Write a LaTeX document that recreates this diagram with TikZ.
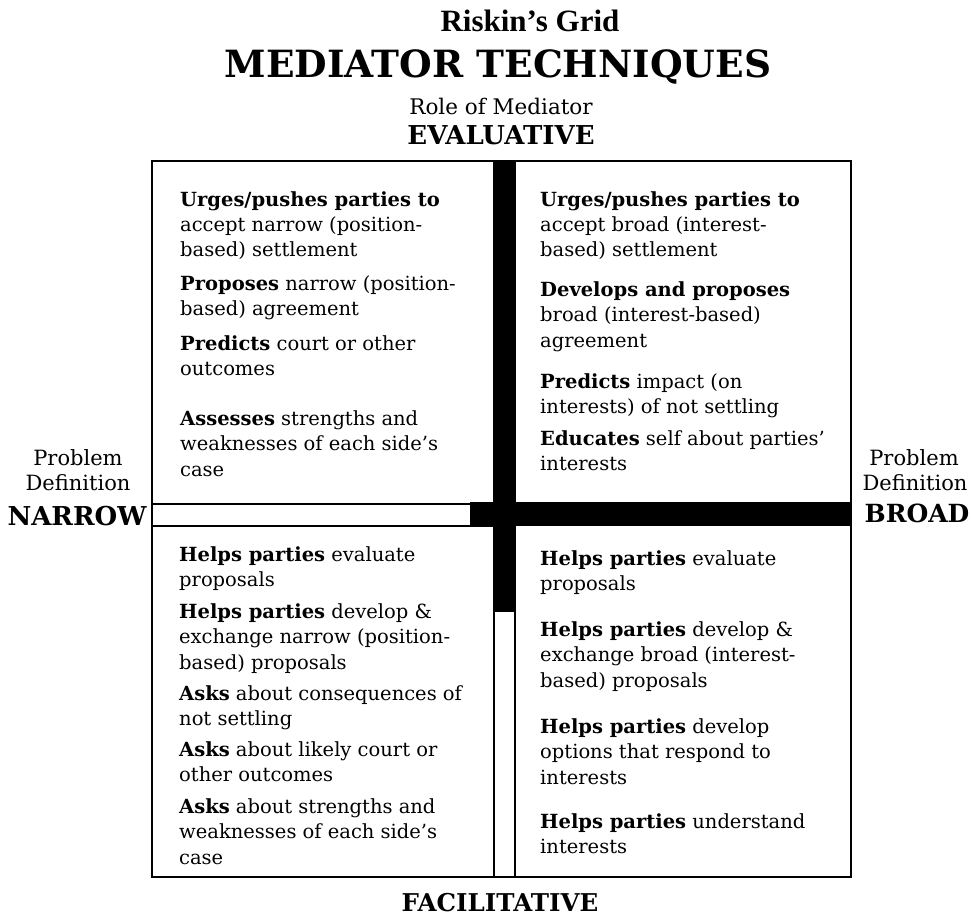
\documentclass[tikz,border=0pt]{standalone}
\usepackage{fontspec}
\setmainfont{DejaVu Serif}
\newfontfamily\gridtitlefont{Liberation Serif}
\usetikzlibrary{positioning}

\tikzset{
  item/.style={anchor=base west, inner sep=0pt, align=left, font=\fontsize{19.5}{25.5}\selectfont},
  head/.style={anchor=base, inner sep=0pt, font=\bfseries\fontsize{25}{25}\selectfont},
  side/.style={anchor=base, inner sep=0pt, font=\fontsize{21}{21}\selectfont},
  sidebold/.style={anchor=base, inner sep=0pt, font=\bfseries\fontsize{26}{26}\selectfont},
  bar/.style={fill=black},
  rule/.style={line width=1.6pt},
}

\begin{document}
\begin{tikzpicture}[x=1pt,y=-1pt]
	\useasboundingbox (0,0) rectangle (971,917);

	% headings
	\node[anchor=base, inner sep=0pt, font=\gridtitlefont\bfseries\fontsize{31}{31}\selectfont] (title) at (530,32) {Riskin’s Grid};
	\node[head, font=\bfseries\fontsize{37.5}{38}\selectfont] (techniques) at (498,78) {MEDIATOR TECHNIQUES};
	\node[side, font=\fontsize{21.5}{22}\selectfont] (role) at (501,115) {Role of Mediator};
	\node[head, font=\bfseries\fontsize{26}{26}\selectfont] (evaluative) at (501,145) {EVALUATIVE};
	\node[head, font=\bfseries\fontsize{24.5}{25}\selectfont] (facilitative) at (500,911) {FACILITATIVE};

	% problem definition
	\node[side] (lprob) at (78,465) {Problem};
	\node[side] (ldef) at (78,490) {Definition};
	\node[sidebold] (narrow) at (77,525) {NARROW};
	\node[side] (rprob) at (914,465) {Problem};
	\node[side] (rdef) at (915,490) {Definition};
	\node[sidebold, font=\bfseries\fontsize{25}{25}\selectfont] (broad) at (917,522) {BROAD};

	% grid
	\draw[rule] (152,161) rectangle (851,877);
	\fill[bar] (493,161) rectangle (516,526);
	\fill[bar] (470,502) rectangle (851,526);
	\fill[bar] (493,526) rectangle (516,612);
	\draw[rule] (152,504) -- (470,504);
	\draw[rule] (152,526) -- (493,526);
	\draw[rule] (494,612) -- (494,877);
	\draw[rule] (515,612) -- (515,877);

	% evaluative narrow (nodes sit on the baseline of their last line)
	\node[item] (ul1) at (180,257) {\textbf{Urges/pushes parties to}\\accept narrow (position-\\based) settlement};
	\node[item] (ul2) at (180,315.5) {\textbf{Proposes} narrow (position-\\based) agreement};
	\node[item] (ul3) at (180,375.5) {\textbf{Predicts} court or other\\outcomes};
	\node[item] (ul4) at (180,476) {\textbf{Assesses} strengths and\\weaknesses of each side's\\case};

	% evaluative broad
	\node[item] (ur1) at (540,257) {\textbf{Urges/pushes parties to}\\accept broad (interest-\\based) settlement};
	\node[item] (ur2) at (540,347) {\textbf{Develops and proposes}\\broad (interest-based)\\agreement};
	\node[item] (ur3) at (540,413.5) {\textbf{Predicts} impact (on\\interests) of not settling};
	\node[item] (ur4) at (540,470.5) {\textbf{Educates} self about parties'\\interests};

	% facilitative narrow
	\node[item] (ll1) at (179,586.5) {\textbf{Helps parties} evaluate\\proposals};
	\node[item] (ll2) at (179,669) {\textbf{Helps parties} develop \&\\exchange narrow (position-\\based) proposals};
	\node[item] (ll3) at (179,725.5) {\textbf{Asks} about consequences of\\not settling};
	\node[item] (ll4) at (179,781.5) {\textbf{Asks} about likely court or\\other outcomes};
	\node[item] (ll5) at (179,864) {\textbf{Asks} about strengths and\\weaknesses of each side's\\case};

	% facilitative broad
	\node[item] (lr1) at (540,590.5) {\textbf{Helps parties} evaluate\\proposals};
	\node[item] (lr2) at (540,687) {\textbf{Helps parties} develop \&\\exchange broad (interest-\\based) proposals};
	\node[item] (lr3) at (540,784) {\textbf{Helps parties} develop\\options that respond to\\interests};
	\node[item] (lr4) at (540,853.5) {\textbf{Helps parties} understand\\interests};
\end{tikzpicture}
\end{document}
